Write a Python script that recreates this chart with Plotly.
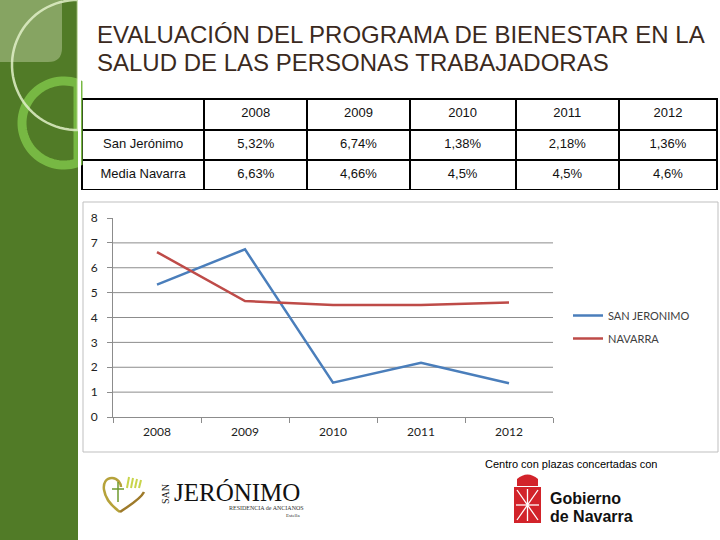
import numpy as np
import plotly.graph_objects as go

# ---- data ----
years = ["2008", "2009", "2010", "2011", "2012"]
san_jeronimo = [5.32, 6.74, 1.38, 2.18, 1.36]
navarra = [6.63, 4.66, 4.5, 4.5, 4.6]
row_labels = ["San Jerónimo", "Media Navarra"]
legend_names = ["SAN JERONIMO", "NAVARRA"]
y_ticks = [0, 1, 2, 3, 4, 5, 6, 7, 8]
title_lines = ["EVALUACIÓN DEL PROGRAMA DE BIENESTAR EN LA",
               "SALUD DE LAS PERSONAS TRABAJADORAS"]

W, H = 720, 540
def px(x):
    return x / W
def py(y):
    return 1 - y / H

def fmt(v):
    return f"{v:g}".replace(".", ",") + "%"

fig = go.Figure()

# ---- table ----
cols = [row_labels] + [[fmt(a), fmt(b)] for a, b in zip(san_jeronimo, navarra)]
fig.add_trace(go.Table(
    domain=dict(x=[px(82), px(717)], y=[py(191), py(99)]),
    columnwidth=[122, 103, 102, 106, 103, 98],
    header=dict(values=[""] + years, height=31,
                line=dict(color="black", width=2), fill=dict(color="white"),
                font=dict(family="Liberation Sans", size=13, color="#111111"),
                align="center"),
    cells=dict(values=cols, height=30,
               line=dict(color="black", width=2), fill=dict(color="white"),
               font=dict(family="Liberation Sans", size=13, color="#111111"),
               align="center"),
))

# ---- line chart ----
fig.add_trace(go.Scatter(x=years, y=san_jeronimo, mode="lines", name=legend_names[0],
                         line=dict(color="#4A7EBB", width=2.5), legendgroup="a"))
fig.add_trace(go.Scatter(x=years, y=navarra, mode="lines", name=legend_names[1],
                         line=dict(color="#BE4B48", width=2.5), legendgroup="b"))

shapes = []
# sidebar
shapes.append(dict(type="rect", xref="paper", yref="paper", x0=0, x1=px(78), y0=0, y1=1,
                   fillcolor="#517B27", line=dict(width=0), layer="below"))
# light rounded square top-left
r = 14
sq = (f"M {px(0)},{py(0)} L {px(62)},{py(0)} L {px(62)},{py(62-r)} "
      f"Q {px(62)},{py(62)} {px(62-r)},{py(62)} L {px(0)},{py(62)} Z")
shapes.append(dict(type="path", xref="paper", yref="paper", path=sq,
                   fillcolor="rgba(200,215,170,0.45)", line=dict(width=0)))
# rings
t = np.linspace(0, 2 * np.pi, 90)
def ring_path(cx, cy, rad):
    pts = [(min(cx + rad * np.cos(a), 78), cy + rad * np.sin(a)) for a in t]
    return "M " + " L ".join(f"{px(x):.5f},{py(y):.5f}" for x, y in pts) + " Z"
shapes.append(dict(type="path", xref="paper", yref="paper", path=ring_path(64, 123, 42),
                   fillcolor="rgba(0,0,0,0)", line=dict(color="#77B843", width=9)))
shapes.append(dict(type="path", xref="paper", yref="paper", path=ring_path(77, 65, 65),
                   fillcolor="rgba(0,0,0,0)", line=dict(color="rgba(225,240,200,0.85)", width=2.5)))
shapes.append(dict(type="rect", xref="paper", yref="paper", x0=px(78), x1=px(81), y0=py(200), y1=1,
                   fillcolor="white", line=dict(width=0)))
# chart box
shapes.append(dict(type="rect", xref="paper", yref="paper", x0=px(83), x1=px(718), y0=py(452), y1=py(202),
                   fillcolor="rgba(0,0,0,0)", line=dict(color="#BFBFBF", width=1)))
# gridlines
for v in y_ticks[1:-1]:
    shapes.append(dict(type="line", xref="paper", yref="y", x0=px(113), x1=px(553), y0=v, y1=v,
                       line=dict(color="#8C8C8C", width=1), layer="below"))
# Gobierno de Navarra shield
shapes.append(dict(type="rect", xref="paper", yref="paper", x0=px(514), x1=px(541), y0=py(523), y1=py(487),
                   fillcolor="#D2232A", line=dict(width=0)))
shapes.append(dict(type="path", xref="paper", yref="paper",
                   path=f"M {px(517)},{py(486)} L {px(517)},{py(479)} Q {px(527.5)},{py(470)} {px(538)},{py(479)} L {px(538)},{py(486)} Z",
                   fillcolor="#D2232A", line=dict(width=0)))
for (a, b, c, d) in [(517, 490, 538, 520), (517, 520, 538, 490), (527.5, 489, 527.5, 521), (516, 505, 539, 505)]:
    shapes.append(dict(type="line", xref="paper", yref="paper", x0=px(a), y0=py(b), x1=px(c), y1=py(d),
                       line=dict(color="white", width=1.3)))
# San Jeronimo heart
heart = (f"M {px(120)},{py(512)} C {px(100)},{py(498)} {px(100)},{py(478)} {px(112)},{py(478)} "
         f"C {px(118)},{py(478)} {px(121)},{py(484)} {px(121)},{py(487)}")
shapes.append(dict(type="path", xref="paper", yref="paper", path=heart,
                   line=dict(color="#B6A23A", width=2.5)))
shapes.append(dict(type="path", xref="paper", yref="paper",
                   path=f"M {px(120)},{py(512)} C {px(128)},{py(506)} {px(140)},{py(500)} {px(144)},{py(492)}",
                   line=dict(color="#9E7A2A", width=2.5)))
shapes.append(dict(type="line", xref="paper", yref="paper", x0=px(118), x1=px(118), y0=py(482), y1=py(502),
                   line=dict(color="#6E9A2E", width=1.5)))
shapes.append(dict(type="line", xref="paper", yref="paper", x0=px(112), x1=px(124), y0=py(489), y1=py(489),
                   line=dict(color="#6E9A2E", width=1.5)))
for i, xx in enumerate([127, 131, 135, 139]):
    shapes.append(dict(type="line", xref="paper", yref="paper", x0=px(xx), x1=px(xx + 2), y0=py(488), y1=py(477 + i),
                       line=dict(color="#C8D44A", width=2)))

annotations = []
for i, line in enumerate(title_lines):
    annotations.append(dict(text=line, xref="paper", yref="paper", x=px(95), y=py(35 + 27 * i),
                            xanchor="left", yanchor="middle", showarrow=False,
                            font=dict(family="Liberation Sans", size=24, color="#3B2A1E")))
annotations += [
    dict(text="Centro con plazas concertadas con", x=px(571), y=py(464), xref="paper", yref="paper",
         showarrow=False, xanchor="center", yanchor="middle",
         font=dict(family="Liberation Sans", size=11, color="black")),
    dict(text="<b>Gobierno</b>", x=px(548), y=py(498), xref="paper", yref="paper", showarrow=False,
         xanchor="left", yanchor="middle", font=dict(family="Liberation Sans", size=16, color="#111")),
    dict(text="<b>de Navarra</b>", x=px(548), y=py(516), xref="paper", yref="paper", showarrow=False,
         xanchor="left", yanchor="middle", font=dict(family="Liberation Sans", size=16, color="#111")),
    dict(text="JERÓNIMO", x=px(172), y=py(492), xref="paper", yref="paper", showarrow=False,
         xanchor="left", yanchor="middle", font=dict(family="Liberation Serif", size=25, color="#111")),
    dict(text="SAN", x=px(165), y=py(494), xref="paper", yref="paper", showarrow=False, textangle=-90,
         xanchor="center", yanchor="middle", font=dict(family="Liberation Serif", size=10, color="#111")),
    dict(text="RESIDENCIA de ANCIANOS", x=px(266), y=py(508), xref="paper", yref="paper", showarrow=False,
         xanchor="center", yanchor="middle", font=dict(family="Liberation Serif", size=6, color="#333")),
    dict(text="Estella", x=px(293), y=py(515), xref="paper", yref="paper", showarrow=False,
         xanchor="center", yanchor="middle", font=dict(family="Liberation Serif", size=5, color="#333")),
]

fig.update_layout(
    width=W, height=H, margin=dict(l=0, r=0, t=0, b=0, pad=0, autoexpand=False),
    paper_bgcolor="white", plot_bgcolor="white",
    shapes=shapes, annotations=annotations,
    xaxis=dict(domain=[px(113), px(553)], type="category", range=[-0.5, 4.5], showgrid=False,
               showline=True, linecolor="#8C8C8C", linewidth=1, automargin=False,
               ticks="outside", ticklen=5, tickcolor="#8C8C8C", tickson="boundaries",
               ticklabelstandoff=4,
               tickfont=dict(family="Lato", size=12, color="#222"), fixedrange=True),
    yaxis=dict(domain=[py(417), py(218)], range=[0, 8], tickvals=y_ticks, showgrid=False,
               showline=True, linecolor="#8C8C8C", linewidth=1, zeroline=False, automargin=False,
               ticks="outside", ticklen=5, tickcolor="#8C8C8C", ticklabelstandoff=7,
               tickfont=dict(family="Lato", size=12, color="#222"), fixedrange=True),
    legend=dict(x=px(568), y=py(301), xanchor="left", yanchor="top", tracegroupgap=4,
                bgcolor="rgba(0,0,0,0)", font=dict(family="Lato", size=11, color="#404040"),
                itemwidth=30),
    showlegend=True,
)

fig.write_html("out.html", config={"displayModeBar": False},
               post_script="document.body.style.margin='0';document.body.style.padding='0';")
